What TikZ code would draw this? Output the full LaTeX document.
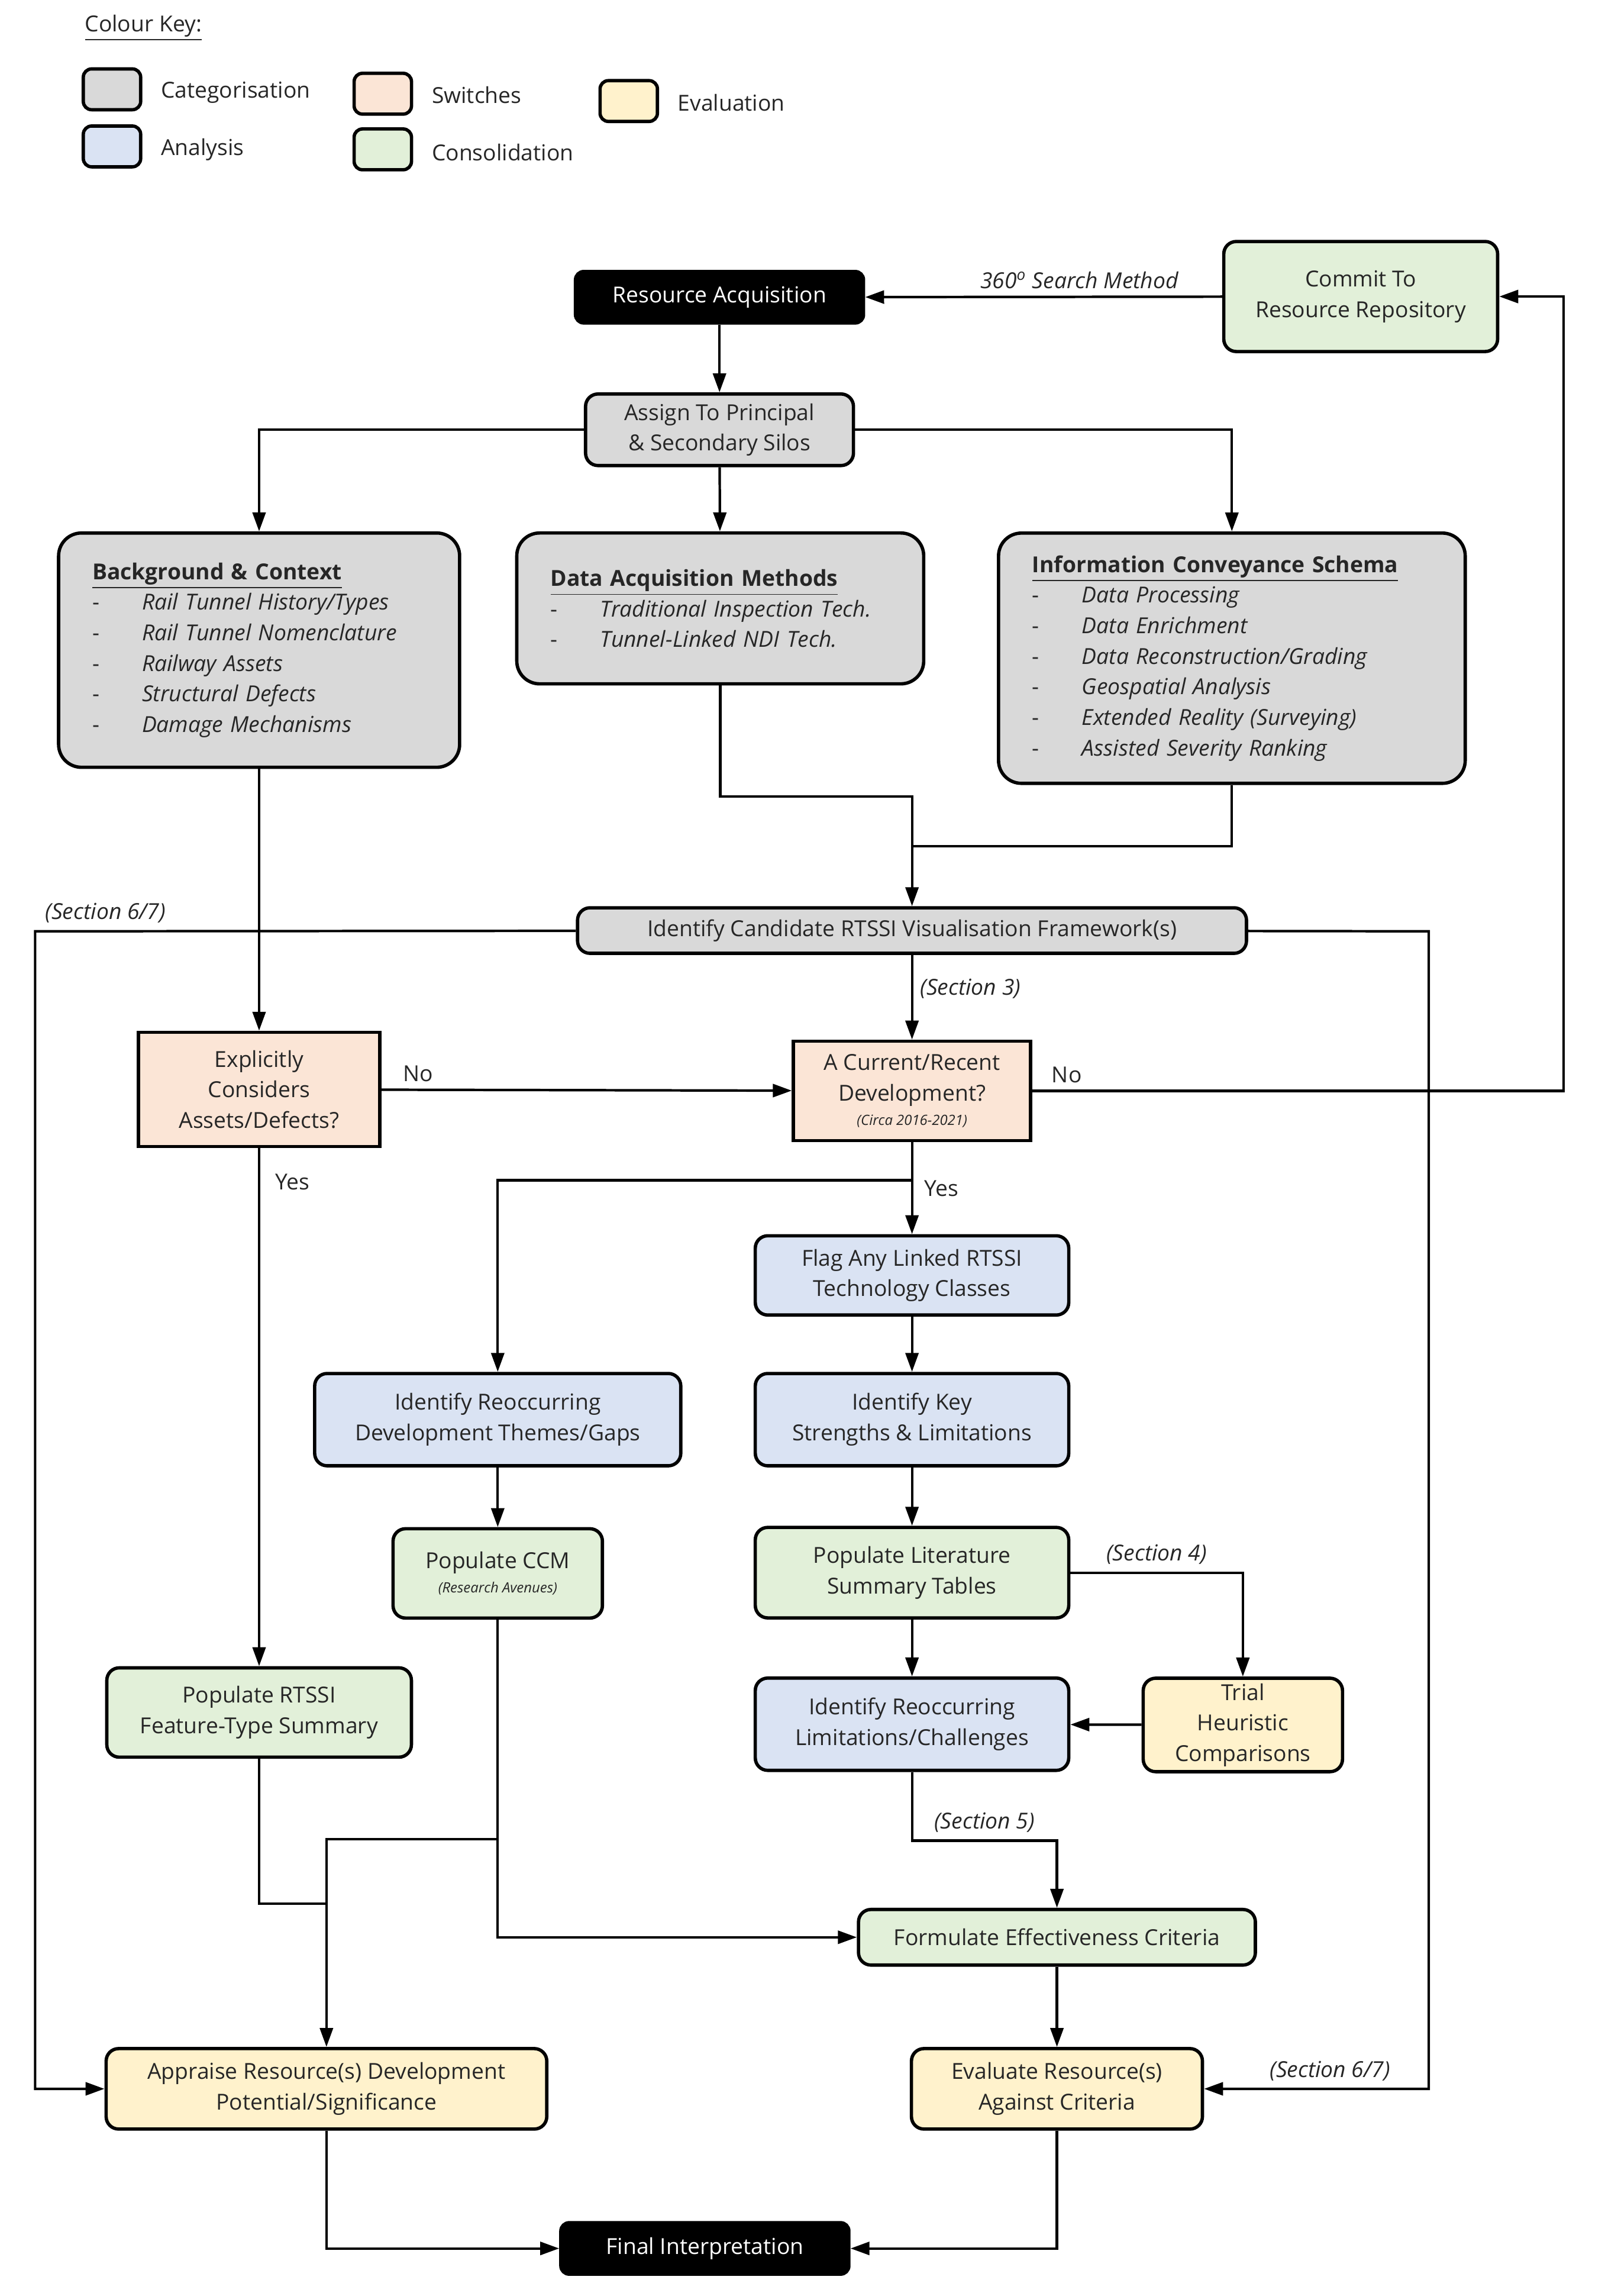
\documentclass[tikz,border=0pt]{standalone}
\usepackage{fontspec}
\setmainfont{Open Sans}
\usepackage{xcolor}
\usepackage{tikz}
\usetikzlibrary{arrows.meta}
\definecolor{rtcat}{RGB}{217, 217, 217}
\definecolor{rtana}{RGB}{218, 227, 243}
\definecolor{rtswi}{RGB}{251, 229, 214}
\definecolor{rtcon}{RGB}{226, 240, 217}
\definecolor{rteva}{RGB}{255, 242, 204}
\newcommand{\bitem}[1]{\\\makebox[0.84cm][l]{-}\textit{#1}}

\begin{document}
\begin{tikzpicture}[x=0.024745cm, y=-0.024745cm,
    every node/.style={font=\fontsize{10.6}{14.7}\selectfont, text=black!85},
    box/.style={draw, line width=1.6pt, rounded corners=6pt, align=center, inner sep=2pt},
    listbox/.style={box, rounded corners=11pt, fill=rtcat, align=left, inner xsep=0.57cm},
    swbox/.style={box, sharp corners, fill=rtswi},
    termbox/.style={box, rounded corners=4pt, fill=black, text=white},
    legbox/.style={draw, line width=1.6pt, rounded corners=4pt, minimum width=0.97cm, minimum height=0.69cm},
    lbl/.style={font=\fontsize{10.6}{12}\selectfont\itshape},
    arr/.style={-{Triangle[length=0.32cm, width=0.22cm]}, line width=1.2pt},
    conn/.style={line width=1.2pt}]
    \useasboundingbox (0,0) rectangle (1096,1568);

    % Colour key
    \node[anchor=west] (keytitle) at (53,19) {\underline{Colour Key:}};
    \node[legbox, fill=rtcat] (kcat) at (76.5,61) {};
    \node[anchor=west] (kcattxt) at (105,63) {Categorisation};
    \node[legbox, fill=rtana] (kana) at (76.5,100) {};
    \node[anchor=west] (kanatxt) at (105,102) {Analysis};
    \node[legbox, fill=rtswi] (kswi) at (261.5,64) {};
    \node[anchor=west] (kswitxt) at (290,65) {Switches};
    \node[legbox, fill=rtcon] (kcon) at (261.5,102) {};
    \node[anchor=west] (kcontxt) at (290,104) {Consolidation};
    \node[legbox, fill=rteva] (keva) at (429.5,69) {};
    \node[anchor=west] (kevatxt) at (458,70) {Evaluation};

    % Main components
    \node[termbox, minimum width=4.87cm, minimum height=0.87cm] (acq) at (491.5,203) {Resource Acquisition};
    \node[box, fill=rtcon, minimum width=4.63cm, minimum height=1.86cm] (commit) at (929.5,202.5) {Commit To\\Resource Repository};
    \node[box, fill=rtcat, minimum width=4.53cm, minimum height=1.21cm] (assign) at (491.5,293.5) {Assign To Principal\\\& Secondary Silos};
    \node[listbox, text width=5.64cm, minimum height=3.96cm] (bg) at (177,444) {\textbf{\underline{Background \& Context}}
        \bitem{Rail Tunnel History/Types}
        \bitem{Rail Tunnel Nomenclature}
        \bitem{Railway Assets}
        \bitem{Structural Defects}
        \bitem{Damage Mechanisms}};
    \node[listbox, text width=5.74cm, minimum height=2.55cm] (daq) at (492,415.5) {\textbf{\underline{Data Acquisition Methods}}
        \bitem{Traditional Inspection Tech.}
        \bitem{Tunnel-Linked NDI Tech.}};
    \node[listbox, text width=6.75cm, minimum height=4.23cm] (ics) at (841.5,449.5) {\textbf{\underline{Information Conveyance Schema}}
        \bitem{Data Processing}
        \bitem{Data Enrichment}
        \bitem{Data Reconstruction/Grading}
        \bitem{Geospatial Analysis}
        \bitem{Extended Reality (Surveying)}
        \bitem{Assisted Severity Ranking}};
    \node[box, fill=rtcat, minimum width=11.31cm, minimum height=0.77cm] (cand) at (623,635.5) {Identify Candidate RTSSI Visualisation Framework(s)};
    \node[swbox, minimum width=4.08cm, minimum height=1.93cm] (expl) at (177,744) {Explicitly\\Considers\\Assets/Defects?};
    \node[swbox, minimum width=4.01cm, minimum height=1.68cm] (cur) at (623,745) {A Current/Recent\\Development?\\[-3pt]{\fontsize{6.8}{8}\selectfont\itshape (Circa 2016-2021)}};
    \node[box, fill=rtana, minimum width=5.30cm, minimum height=1.34cm] (flag) at (623,871) {Flag Any Linked RTSSI\\Technology Classes};
    \node[box, fill=rtana, minimum width=5.30cm, minimum height=1.56cm] (keysl) at (623,969.5) {Identify Key\\Strengths \& Limitations};
    \node[box, fill=rtana, minimum width=6.19cm, minimum height=1.56cm] (themes) at (340,969.5) {Identify Reoccurring\\Development Themes/Gaps};
    \node[box, fill=rtcon, minimum width=3.54cm, minimum height=1.51cm] (ccm) at (340,1074.5) {Populate CCM\\[-3pt]{\fontsize{6.8}{8}\selectfont\itshape (Research Avenues)}};
    \node[box, fill=rtcon, minimum width=5.30cm, minimum height=1.53cm] (lit) at (623,1074) {Populate Literature\\Summary Tables};
    \node[box, fill=rteva, minimum width=3.37cm, minimum height=1.58cm] (trial) at (849,1178) {Trial\\Heuristic\\Comparisons};
    \node[box, fill=rtana, minimum width=5.30cm, minimum height=1.56cm] (limits) at (623,1177.5) {Identify Reoccurring\\Limitations/Challenges};
    \node[box, fill=rtcon, minimum width=5.15cm, minimum height=1.51cm] (rtssi) at (177,1169.5) {Populate RTSSI\\Feature-Type Summary};
    \node[box, fill=rtcon, minimum width=6.71cm, minimum height=0.94cm] (form) at (722,1323) {Formulate Effectiveness Criteria};
    \node[box, fill=rteva, minimum width=7.45cm, minimum height=1.36cm] (appr) at (223,1426.5) {Appraise Resource(s) Development\\Potential/Significance};
    \node[box, fill=rteva, minimum width=4.92cm, minimum height=1.36cm] (eval) at (722,1426.5) {Evaluate Resource(s)\\Against Criteria};
    \node[termbox, minimum width=4.87cm, minimum height=0.87cm] (final) at (481.5,1535.5) {Final Interpretation};

    % Bends
    \coordinate (daqbend) at (623,544);
    \coordinate (icsjoin) at (623,578);
    \coordinate (leftrail) at (24,636);
    \coordinate (rightrail) at (976,636);
    \coordinate (retrail) at (1068,745);
    \coordinate (yesjoin) at (623,806);
    \coordinate (s5bend) at (722,1257);
    \coordinate (ccmsplit) at (340,1256);
    \coordinate (rtssijoin) at (223,1300);

    % Connections
    \draw[arr] (acq) -- (assign);
    \draw[arr] (commit) -- node[lbl, above, pos=0.4] {360\textsuperscript{o} Search Method} (acq);
    \draw[arr] (assign) -| (bg);
    \draw[arr] (assign) -- (daq);
    \draw[arr] (assign) -| (ics);
    \draw[arr] (daq) |- (daqbend) -- (cand);
    \draw[conn] (ics) |- (icsjoin);
    \draw[arr] (bg) -- (expl);
    \draw[arr] (cand) -- node[lbl, above, pos=0.87] {(Section 6/7)} (leftrail) |- (appr);
    \draw[arr] (cand) -- (rightrail) |- node[lbl, above, pos=0.72] {(Section 6/7)} (eval);
    \draw[arr] (cand) -- node[lbl, right, pos=0.4] {(Section 3)} (cur);
    \draw[arr] (expl) -- node[above, pos=0.09] {No} (cur);
    \draw[arr] (cur) -- node[above, pos=0.065] {No} (retrail) |- (commit);
    \draw[arr] (expl) -- node[right, pos=0.065, xshift=4pt] {Yes} (rtssi);
    \draw[arr] (cur) -- node[right, xshift=2pt] {Yes} (flag);
    \draw[arr] (yesjoin) -| (themes);
    \draw[arr] (flag) -- (keysl);
    \draw[arr] (keysl) -- (lit);
    \draw[arr] (themes) -- (ccm);
    \draw[arr] (lit) -- (limits);
    \draw[arr] (lit) -| node[lbl, above, pos=0.25] {(Section 4)} (trial);
    \draw[arr] (trial) -- (limits);
    \draw[arr] (limits) |- node[lbl, above, pos=0.75] {(Section 5)} (s5bend) -- (form);
    \draw[arr] (ccm) |- (form);
    \draw[arr] (ccmsplit) -| (appr);
    \draw[conn] (rtssi) |- (rtssijoin);
    \draw[arr] (form) -- (eval);
    \draw[arr] (appr) |- (final);
    \draw[arr] (eval) |- (final);
\end{tikzpicture}
\end{document}
